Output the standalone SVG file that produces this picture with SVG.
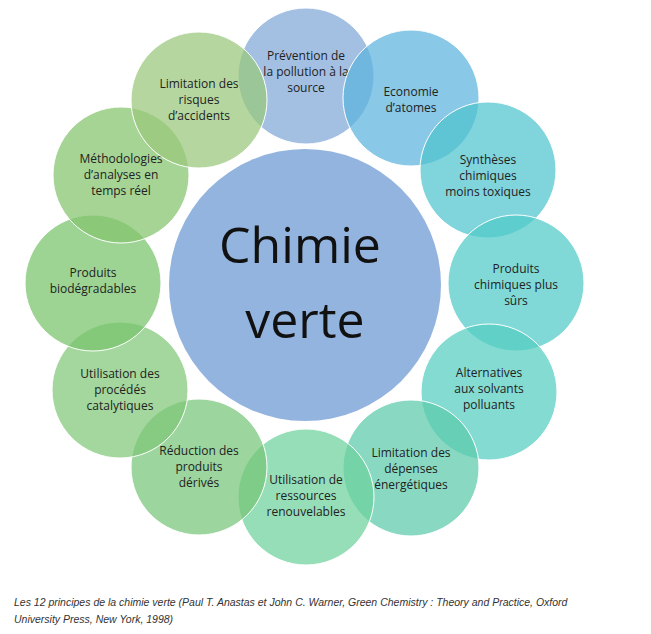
<svg xmlns="http://www.w3.org/2000/svg" width="651" height="634" viewBox="0 0 651 634">
<style>
.c{stroke:#ffffff;stroke-width:1;fill-opacity:0.72}
.t{font-family:"Open Sans","Liberation Sans",sans-serif;font-size:12px;fill:#222;text-anchor:middle}
.cap{font-family:"Liberation Sans",Arial,sans-serif;font-size:10.5px;font-style:italic;fill:#333}
</style>
<rect width="651" height="634" fill="#fff"/>
<g id="center"><circle cx="305" cy="285" r="136" fill="#93b4de"/>
<text x="300" y="263" style="font-family:'Open Sans','Liberation Sans',sans-serif;font-size:50px;fill:#111;text-anchor:middle">Chimie</text>
<text x="305" y="338" style="font-family:'Open Sans','Liberation Sans',sans-serif;font-size:50px;fill:#111;text-anchor:middle">verte</text></g>
<g id="n1"><circle class="c" cx="306" cy="76" r="68" fill="#7fa8d8"/><text class="t" x="306" y="60">Prévention de</text><text class="t" x="306" y="76">la pollution à la</text><text class="t" x="306" y="92">source</text></g>
<g id="n2"><circle class="c" cx="411" cy="98" r="68" fill="#5bb3dc"/><text class="t" x="411" y="96">Economie</text><text class="t" x="411" y="112">d’atomes</text></g>
<g id="n3"><circle class="c" cx="488" cy="170" r="68" fill="#4fc3cf"/><text class="t" x="488" y="164">Synthèses</text><text class="t" x="488" y="180">chimiques</text><text class="t" x="488" y="196">moins toxiques</text></g>
<g id="n4"><circle class="c" cx="516" cy="283" r="68" fill="#4fcbc8"/><text class="t" x="516" y="273">Produits</text><text class="t" x="516" y="289">chimiques plus</text><text class="t" x="516" y="305">sûrs</text></g>
<g id="n5"><circle class="c" cx="489" cy="392" r="68" fill="#55cdc0"/><text class="t" x="489" y="377">Alternatives</text><text class="t" x="489" y="393">aux solvants</text><text class="t" x="489" y="409">polluants</text></g>
<g id="n6"><circle class="c" cx="411" cy="468" r="68" fill="#5ccbaa"/><text class="t" x="411" y="457">Limitation des</text><text class="t" x="411" y="473">dépenses</text><text class="t" x="411" y="489">énergétiques</text></g>
<g id="n7"><circle class="c" cx="306" cy="497" r="68" fill="#6dd19d"/><text class="t" x="306" y="484">Utilisation de</text><text class="t" x="306" y="500">ressources</text><text class="t" x="306" y="516">renouvelables</text></g>
<g id="n8"><circle class="c" cx="199" cy="467" r="68" fill="#76c577"/><text class="t" x="199" y="455">Réduction des</text><text class="t" x="199" y="471">produits</text><text class="t" x="199" y="487">dérivés</text></g>
<g id="n9"><circle class="c" cx="120" cy="390" r="68" fill="#80c878"/><text class="t" x="120" y="378">Utilisation des</text><text class="t" x="120" y="394">procédés</text><text class="t" x="120" y="410">catalytiques</text></g>
<g id="n10"><circle class="c" cx="93" cy="283" r="68" fill="#77c36b"/><text class="t" x="93" y="277">Produits</text><text class="t" x="93" y="293">biodégradables</text></g>
<g id="n11"><circle class="c" cx="121" cy="175" r="68" fill="#84c36c"/><text class="t" x="121" y="163">Méthodologies</text><text class="t" x="121" y="179">d’analyses en</text><text class="t" x="121" y="195">temps réel</text></g>
<g id="n12"><circle class="c" cx="199" cy="100" r="68" fill="#98c87a"/><text class="t" x="199" y="88">Limitation des</text><text class="t" x="199" y="104">risques</text><text class="t" x="199" y="120">d’accidents</text></g>
<g id="connectors"></g>
<text class="cap" x="14" y="606">Les 12 principes de la chimie verte (Paul T. Anastas et John C. Warner, Green Chemistry : Theory and Practice, Oxford</text>
<text class="cap" x="14" y="623">University Press, New York, 1998)</text>
</svg>
